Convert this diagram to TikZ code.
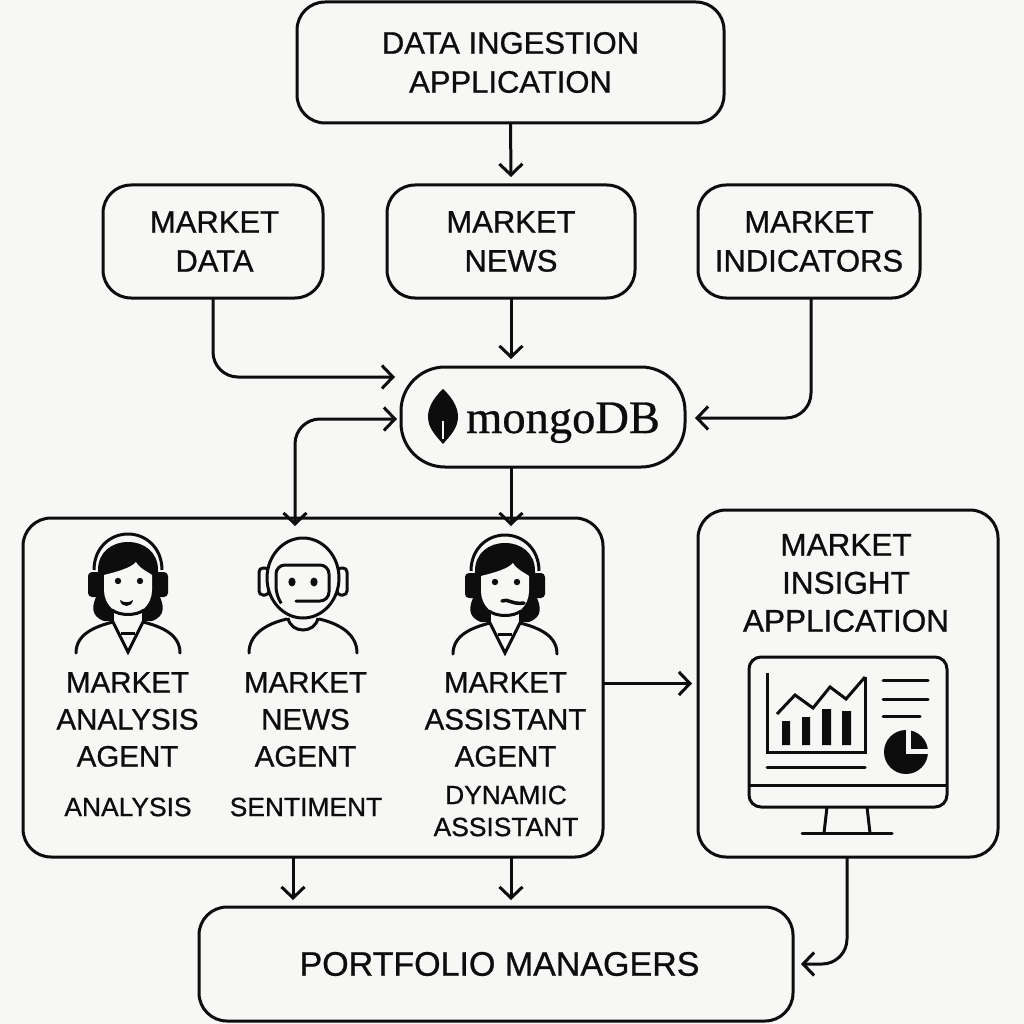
\documentclass[tikz,border=0pt]{standalone}
\usepackage{fontspec}
\setmainfont{Liberation Sans}
\newfontfamily\labelfont[FakeBold=0.8]{Liberation Sans}
\newfontfamily\logofont[FakeBold=0.6]{Liberation Serif}
\usetikzlibrary{arrows.meta}
\definecolor{paper}{HTML}{F7F7F5}
\definecolor{ink}{HTML}{0D0D0D}
\tikzset{
  box/.style={draw=ink,line width=3pt,rounded corners=28pt,outer sep=0pt,inner sep=0pt,align=center,text=ink,
    font=\labelfont\fontsize{31}{39}\selectfont},
  lbl/.style={align=center,text=ink,inner sep=0pt,font=\labelfont\fontsize{29.5}{37}\selectfont},
  sublbl/.style={align=center,text=ink,inner sep=0pt,font=\labelfont\fontsize{26.4}{32}\selectfont},
  link/.style={draw=ink,line width=3pt,>={Straight Barb[length=11pt,width=23pt]}},
  pics/womanicon/.style={code={
    \draw[ink,line width=3pt] (-34,-30) .. controls (-34,-52) and (-18,-66) .. (0,-66) .. controls (18,-66) and (34,-52) .. (34,-30);
    \fill[ink] (-30,-30) .. controls (-30,-48) and (-16,-58) .. (0,-58) .. controls (16,-58) and (30,-48) .. (30,-30)
      -- (31,-5) .. controls (36,5) and (38,16) .. (24,21) -- (-24,21) .. controls (-38,16) and (-36,5) .. (-31,-5) -- cycle;
    \fill[ink,rounded corners=4pt] (-40,-28) rectangle (-27,-3);
    \fill[ink,rounded corners=4pt] (27,-28) rectangle (40,-3);
    \fill[paper] (-14,10) rectangle (14,30);
    \fill[paper] (-24,-25) .. controls (-12,-28) and (3,-32) .. (8,-38) .. controls (11,-32) and (20,-28) .. (24,-25)
      -- (24,-10) .. controls (24,5) and (12,15) .. (0,15) .. controls (-12,15) and (-24,5) .. (-24,-10) -- cycle;
    \draw[ink,line width=3pt] (-16,10) .. controls (-8,16) and (8,16) .. (16,10);
    \fill[ink] (-10,-19) circle (3.2pt) (12,-19) circle (3.2pt);
    \draw[ink,line width=3pt,line cap=round] (-52,53) .. controls (-52,35) and (-35,27) .. (-15,22) -- (0,52) -- (15,22)
      .. controls (35,27) and (52,35) .. (52,53);
    \draw[ink,line width=3pt] (-7,33) -- (7,33);
  }},
  pics/roboticon/.style={code={
    \draw[ink,line width=3pt,rounded corners=4pt] (-44,-32) rectangle (-34,-5) (34,-32) rectangle (44,-5);
    \draw[ink,line width=3pt,fill=paper] (0,-22) ellipse [x radius=36pt,y radius=40pt];
    \draw[ink,line width=3pt,line cap=round,rounded corners=9pt] (-7,1) -- (26,1) -- (26,-35) -- (-27,-35) -- (-27,-4) -- (-22,3);
    \fill[ink] (-11,-18) ellipse [x radius=3.6pt,y radius=4.5pt] (11,-18) ellipse [x radius=3.6pt,y radius=4.5pt];
    \draw[ink,line width=3pt,line cap=round] (-54,53) .. controls (-54,35) and (-38,24) .. (-16,19);
    \draw[ink,line width=3pt,line cap=round] (54,53) .. controls (54,35) and (38,24) .. (16,19);
    \draw[ink,line width=3pt] (-15,18) .. controls (-12,34) and (12,34) .. (15,18);
  }}
}

\begin{document}
\begin{tikzpicture}[x=1pt,y=-1pt]
  \fill[paper] (0,0) rectangle (1024,1024);
  \useasboundingbox (0,0) rectangle (1024,1024);

  \node[box,minimum width=427pt,minimum height=121pt] (ingest) at (510.5,62.5) {DATA INGESTION\\APPLICATION};
  \node[box,minimum width=220pt,minimum height=113pt] (mdata) at (213,241.5) {\hspace*{3pt}MARKET\\\hspace*{3pt}DATA};
  \node[box,minimum width=248pt,minimum height=113pt] (mnews) at (511,241.5) {MARKET\\NEWS};
  \node[box,minimum width=222pt,minimum height=113pt] (mind) at (809,241.5) {MARKET\\INDICATORS};
  \node[box,rounded corners=44pt,minimum width=284pt,minimum height=100pt] (mongo) at (543,417) {};
  \node[box,minimum width=580pt,minimum height=339pt] (agents) at (313,687.5) {};
  \node[box,minimum width=300pt,minimum height=347pt] (insight) at (848,683.5) {};
  \node[box,minimum width=594pt,minimum height=114pt,font=\labelfont\fontsize{34}{40}\selectfont] (pm) at (496,964) {\hspace*{7pt}PORTFOLIO MANAGERS};

  \node[inner sep=0pt,text=ink,anchor=base west,font=\logofont\fontsize{46.5}{46}\selectfont] (mongotext) at (466,433) {mongoDB};
  \fill[ink] (443,389) .. controls (431,400) and (428,410) .. (428,417) .. controls (428,428) and (436,436) .. (443,444)
    .. controls (450,436) and (458,428) .. (458,417) .. controls (458,410) and (455,400) .. (443,389) -- cycle;
  \draw[paper,line width=1.2pt] (443,421) -- (443,439);

  \pic at (128,600) {womanicon};
  \fill[ink] (120,600) .. controls (124,603) and (129,603) .. (133,600) .. controls (132,608) and (121,608) .. (120,600) -- cycle;
  \pic at (303,600) {roboticon};
  \pic at (505,601) {womanicon};
  \draw[ink,line width=3.5pt,line cap=round] (502,601) .. controls (508,598) and (512,605) .. (524,603);

  \node[lbl] (analysis) at (127.5,719.5) {MARKET\\ANALYSIS\\AGENT};
  \node[lbl] (news) at (305.5,719.5) {MARKET\\NEWS\\AGENT};
  \node[lbl] (assist) at (505.5,719.5) {MARKET\\ASSISTANT\\AGENT};
  \node[sublbl] (taskA) at (128,807) {ANALYSIS};
  \node[sublbl] (taskB) at (306,807) {SENTIMENT};
  \node[sublbl] (taskC) at (506,811) {DYNAMIC\\ASSISTANT};
  \node[lbl,font=\labelfont\fontsize{31.5}{38}\selectfont] (insighttext) at (846,583) {MARKET\\INSIGHT\\APPLICATION};

  % monitor
  \draw[ink,line width=3pt,rounded corners=12pt] (749,657) rectangle (947,807);
  \draw[ink,line width=3pt] (749,785) -- (947,785);
  \draw[ink,line width=3pt] (827,807) -- (824,833) (867,807) -- (870,833);
  \draw[ink,line width=3pt,line cap=round] (802,833) -- (892,833);
  \draw[ink,line width=3pt] (767,673) -- (767,752) -- (865,752) -- (865,677);
  \draw[ink,line width=3pt] (777,714) -- (795,695) -- (813,708) -- (830,687) -- (846,699) -- (865,677);
  \fill[ink] (782,721) rectangle (790,745) (802,717) rectangle (810,745) (822,709) rectangle (831,745) (842,711) rectangle (851,745);
  \draw[ink,line width=3pt,line cap=round] (767,767) -- (865,767) (883,680) -- (928,680) (883,699) -- (928,699) (883,716) -- (920,716);
  \fill[ink] (906,752) circle (22pt);
  \draw[paper,line width=5pt] (908,728) -- (908,751) -- (932,751);

  \draw[link,->] (ingest.south) -- ([yshift=8pt]mnews.north);
  \draw[link,->,rounded corners=25pt] (mdata.south) |- ([xshift=-6pt,yshift=40pt]mongo.west);
  \draw[link,->] (mnews.south) -- ([xshift=-32pt,yshift=8pt]mongo.north);
  \draw[link,->,rounded corners=25pt] ([xshift=2pt]mind.south) |- ([xshift=10pt,yshift=-1pt]mongo.east);
  \draw[link,<->,rounded corners=25pt] ([xshift=-18pt,yshift=-8pt]agents.north) |- ([xshift=-4pt,yshift=-2pt]mongo.west);
  \draw[link,->] ([xshift=-32pt]mongo.south) -- ([xshift=198pt,yshift=-8pt]agents.north);
  \draw[link,->] ([yshift=4pt]agents.east) -- ([xshift=-6pt]insight.west);
  \draw[link,->] ([xshift=-20pt]agents.south) -- ([xshift=-203pt,yshift=7pt]pm.north);
  \draw[link,->] ([xshift=198pt]agents.south) -- ([xshift=15pt,yshift=7pt]pm.north);
  \draw[link,->,rounded corners=25pt] ([xshift=-1pt]insight.south) |- ([xshift=8pt]pm.east);
\end{tikzpicture}
\end{document}
